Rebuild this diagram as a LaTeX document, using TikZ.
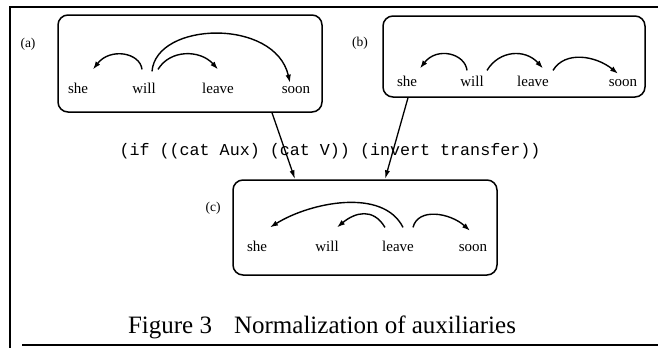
\documentclass[tikz,border=0pt]{standalone}
\usepackage{fontspec}
\setmainfont{Liberation Serif}
\setmonofont{Liberation Mono}
\usetikzlibrary{arrows.meta}
\begin{document}
\begin{tikzpicture}[x=1pt,y=-1pt,
  word/.style={font=\fontsize{15}{16}\selectfont, inner sep=0pt, anchor=base},
  lab/.style={font=\fontsize{13.5}{15}\selectfont, inner sep=0pt},
  box/.style={draw, line width=1.5pt, rounded corners=10pt, inner sep=0pt},
  frame/.style={line width=1.5pt},
  dep/.style={line width=1.4pt, -{Latex[length=8pt,width=5.5pt]}},
  link/.style={line width=1.3pt, -{Latex[length=9pt,width=5pt]}},
  ]
\useasboundingbox (0,0) rectangle (658,348);
% outer frame
\draw[frame] (658,7) -- (10,7) -- (10,348);
\draw[frame] (22,345) -- (658,345);

% box (a)
\node[box, minimum width=264pt, minimum height=97pt] (boxa) at (190,63.5) {};
\node[lab] (laba) at (28,44) {(a)};
\node[word] (a-she) at (78,93) {she};
\node[word] (a-will) at (144,93) {will};
\node[word] (a-leave) at (218,93) {leave};
\node[word] (a-soon) at (296,93) {soon};
\draw[dep] ([shift={(-2,-13)}]a-will.north) .. controls +(-2,-17) and +(17,-22) .. ([shift={(15,-13)}]a-she.north);
\draw[dep] ([shift={(14,-13)}]a-will.north) .. controls +(12,-20) and +(-18,-20) .. ([shift={(0,-13)}]a-leave.north);
\draw[dep] ([shift={(8,-11)}]a-will.north) .. controls +(4,-50) and +(-15,-65) .. ([shift={(-6,-3)}]a-soon.north);

% box (b)
\node[box, minimum width=262pt, minimum height=81pt] (boxb) at (514,56.5) {};
\node[lab] (labb) at (360,43) {(b)};
\node[word] (b-she) at (407,86) {she};
\node[word] (b-will) at (472,86) {will};
\node[word] (b-leave) at (533,86) {leave};
\node[word] (b-soon) at (623,86) {soon};
\draw[dep] ([shift={(-5,-5)}]b-will.north) .. controls +(-2,-17) and +(17,-22) .. ([shift={(13,-7)}]b-she.north);
\draw[dep] ([shift={(15,-5)}]b-will.north) .. controls +(12,-20) and +(-18,-20) .. ([shift={(10,-7)}]b-leave.north);
\draw[dep] ([shift={(20,-5)}]b-leave.north) .. controls +(12,-20) and +(-22,-18) .. ([shift={(-5,-5)}]b-soon.north);

% box (c)
\node[box, minimum width=264pt, minimum height=95pt] (boxc) at (365,227.5) {};
\node[lab] (labc) at (213,208) {(c)};
\node[word] (c-she) at (257,251) {she};
\node[word] (c-will) at (327,251) {will};
\node[word] (c-leave) at (398,251) {leave};
\node[word] (c-soon) at (473,251) {soon};
\draw[dep] ([shift={(5,-13)}]c-leave.north) .. controls +(-20,-40) and +(40,-25) .. ([shift={(13,-13)}]c-she.north);
\draw[dep] ([shift={(-13,-13)}]c-leave.north) .. controls +(-12,-20) and +(18,-15) .. ([shift={(10,-13)}]c-will.north);
\draw[dep] ([shift={(15,-13)}]c-leave.north) .. controls +(5,-20) and +(-20,-18) .. ([shift={(-3,-13)}]c-soon.north);

% rule text
\node[font=\fontsize{16.7}{18}\selectfont\ttfamily, inner sep=0pt, anchor=base] (rule) at (330,155) {(if ((cat Aux) (cat V)) (invert transfer))};

% connectors
\draw[link] ([xshift=82pt]boxa.south) -- ([xshift=-70pt]boxc.north);
\draw[link] ([xshift=-106pt]boxb.south) -- ([xshift=20pt]boxc.north);

% caption
\node[font=\fontsize{25}{27}\selectfont, inner sep=0pt, anchor=base] (caption) at (322,333) {Figure 3\hspace{22pt}Normalization of auxiliaries};
\end{tikzpicture}
\end{document}
